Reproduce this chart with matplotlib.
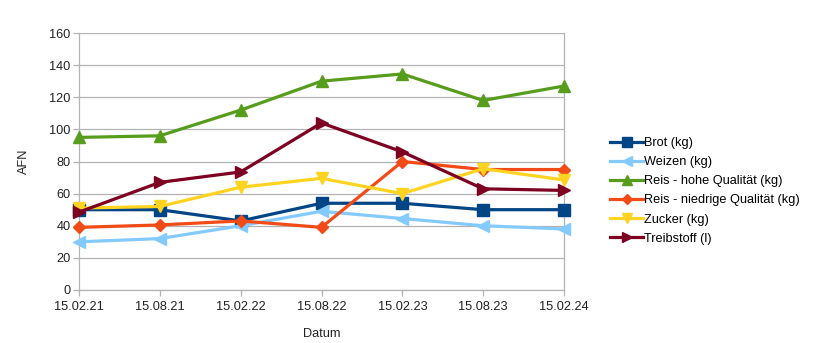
import matplotlib
matplotlib.use("Agg")
import matplotlib.pyplot as plt

plt.rcParams['font.family'] = ['Liberation Sans', 'DejaVu Sans']

dates = ["15.02.21", "15.08.21", "15.02.22", "15.08.22", "15.02.23", "15.08.23", "15.02.24"]

brot = [50, 50, 43, 54, 54, 50, 50]
weizen = [30, 32, 40, 49, 44.5, 40, 38]
reis_hoch = [95, 96, 112, 130, 134.5, 118, 127]
reis_niedrig = [39, 40.5, 43, 39, 80, 75, 75]
zucker = [51, 52, 64, 69.5, 60, 75.5, 68.5]
treibstoff = [48.5, 67, 73.5, 104, 86, 63, 62]

series = [
    ("Brot (kg)", brot, "#004586", "s"),
    ("Weizen (kg)", weizen, "#83caff", "<"),
    ("Reis - hohe Qualität (kg)", reis_hoch, "#579d1c", "^"),
    ("Reis - niedrige Qualität (kg)", reis_niedrig, "#f24b16", "D"),
    ("Zucker (kg)", zucker, "#ffd320", "v"),
    ("Treibstoff (l)", treibstoff, "#7e0021", ">"),
]

W, H = 814, 343
fig = plt.figure(figsize=(W / 100, H / 100), dpi=100)
ax = fig.add_axes([79 / W, (H - 290) / H, 485 / W, 257 / H])

x = list(range(len(dates)))
for label, vals, color, mk in series:
    ms = 6 if mk == "D" else 8
    ax.plot(x, vals, color=color, lw=2.3, marker=mk, markersize=ms,
            label=label, clip_on=False, zorder=3)

grid_c = "#b3b3b3"
fs = 9.2
ax.set_xlim(0, 6)
ax.set_ylim(0, 160)
ax.set_yticks(range(0, 161, 20))
ax.set_xticks(x)
ax.set_xticklabels(dates)
ax.yaxis.grid(True, color=grid_c, lw=0.9)
ax.set_axisbelow(True)
for s in ax.spines.values():
    s.set_color(grid_c)
    s.set_linewidth(0.9)
ax.spines['top'].set_visible(False)
ax.tick_params(axis='both', colors=grid_c, length=4, width=0.9,
               labelcolor="#222222", labelsize=fs, pad=2)
ax.tick_params(axis='x', pad=4)

ax.set_xlabel("Datum", fontsize=fs, color="#222222", labelpad=11)
ax.set_ylabel("AFN", fontsize=fs, color="#222222", labelpad=14)

fig.legend(loc="upper left", bbox_to_anchor=(610 / W, 1 - 137 / H),
           frameon=False, fontsize=fs, handlelength=2.6, handletextpad=0.1,
           labelspacing=0.56, borderaxespad=0, borderpad=0, markerscale=0.9)

fig.savefig("out.png", dpi=100)
